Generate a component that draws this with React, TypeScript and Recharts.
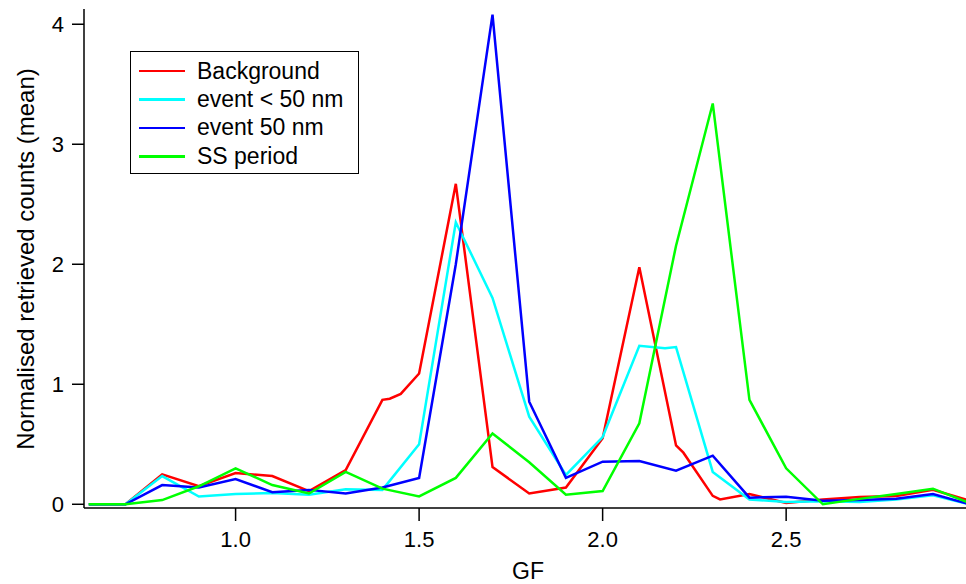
import { LineChart, Line, XAxis, YAxis, Legend } from 'recharts'

const gfBackground = [0.6, 0.7, 0.8, 0.9, 1.0, 1.1, 1.2, 1.3, 1.4, 1.42, 1.45, 1.5, 1.6, 1.7, 1.8, 1.9, 2.0, 2.1, 2.2, 2.22, 2.3, 2.32, 2.4, 2.5, 2.6, 2.7, 2.8, 2.9, 3.0]
const background = [0, 0, 0.25, 0.15, 0.26, 0.235, 0.11, 0.285, 0.87, 0.88, 0.92, 1.09, 2.67, 0.31, 0.09, 0.14, 0.55, 1.975, 0.49, 0.43, 0.07, 0.04, 0.085, 0.01, 0.04, 0.06, 0.07, 0.12, 0.03]

const gfSmall = [0.6, 0.7, 0.8, 0.9, 1.0, 1.1, 1.2, 1.3, 1.4, 1.5, 1.6, 1.7, 1.8, 1.9, 2.0, 2.1, 2.17, 2.2, 2.3, 2.4, 2.5, 2.6, 2.7, 2.8, 2.9, 3.0]
const eventSmall = [0, 0, 0.235, 0.065, 0.085, 0.095, 0.08, 0.125, 0.12, 0.5, 2.35, 1.72, 0.73, 0.245, 0.56, 1.32, 1.3, 1.31, 0.27, 0.04, 0.02, 0.025, 0.02, 0.04, 0.075, 0]

const gf = [0.6, 0.7, 0.8, 0.9, 1.0, 1.1, 1.2, 1.3, 1.4, 1.5, 1.6, 1.7, 1.8, 1.9, 2.0, 2.1, 2.2, 2.3, 2.4, 2.5, 2.6, 2.7, 2.8, 2.9, 3.0]
const event50 = [0, 0, 0.16, 0.14, 0.21, 0.1, 0.12, 0.09, 0.14, 0.22, 2.0, 4.08, 0.855, 0.22, 0.355, 0.36, 0.28, 0.405, 0.055, 0.063, 0.03, 0.036, 0.047, 0.086, 0]
const ssPeriod = [0, 0, 0.035, 0.15, 0.3, 0.16, 0.09, 0.27, 0.13, 0.065, 0.22, 0.59, 0.35, 0.08, 0.11, 0.675, 2.155, 3.34, 0.87, 0.3, 0, 0.045, 0.085, 0.13, 0.01]

const seriesNames = ['Background', 'event < 50 nm', 'event 50 nm', 'SS period']
const xTicks = [1.0, 1.5, 2.0, 2.5]
const yTicks = [0, 1, 2, 3, 4]

const toRows = (xs: number[], ys: number[]) => xs.map((x, i) => ({ gf: x, value: ys[i] }))

const xDomain = [0.587, 2.99]
const yDomain = [-0.031, 4.127]
const font = '"Liberation Sans", Arial, sans-serif'

function renderLegend(props: any) {
  // keep the plotting order rather than recharts' alphabetical one
  const payload = [...props.payload].sort(
    (a: any, b: any) => seriesNames.indexOf(a.value) - seriesNames.indexOf(b.value)
  )
  return (
    <div
      style={{
        boxSizing: 'border-box',
        width: 229,
        height: 123,
        border: '1.5px solid #000',
        background: '#fff',
        padding: '5px 0 0 8px',
        fontFamily: font,
        fontSize: 23,
        color: '#000',
        whiteSpace: 'nowrap'
      }}
    >
      {payload.map((entry: any) => (
        <div key={entry.value} style={{ display: 'flex', alignItems: 'center', height: 28.4 }}>
          <span style={{ display: 'inline-block', width: 46, height: 2.5, background: entry.color, marginRight: 12 }} />
          <span>{entry.value}</span>
        </div>
      ))}
    </div>
  )
}

const yLabel = () => (
  <text x={34} y={259} transform="rotate(-90 34 259)" textAnchor="middle" fontSize={24} fill="#000" fontFamily={font}>
    Normalised retrieved counts (mean)
  </text>
)

const xLabel = () => (
  <text x={528} y={579} textAnchor="middle" fontSize={23} fill="#000" fontFamily={font}>
    GF
  </text>
)

function App() {
  return (
    <div style={{ position: 'absolute', left: 0, top: 0, fontFamily: font }}>
      <LineChart width={966} height={584} margin={{ top: 9, right: 0, bottom: 0, left: 0 }}>
        <XAxis
          dataKey="gf"
          type="number"
          domain={xDomain}
          allowDataOverflow
          ticks={xTicks}
          tickFormatter={(v: number) => v.toFixed(1)}
          height={76}
          tickSize={13}
          tickMargin={10}
          axisLine={{ stroke: '#000', strokeWidth: 1.5 }}
          tickLine={{ stroke: '#000', strokeWidth: 1.5 }}
          tick={{ fontSize: 22, fill: '#000', fontFamily: font }}
          label={xLabel}
        />
        <XAxis
          xAxisId="top"
          orientation="top"
          type="number"
          domain={xDomain}
          allowDataOverflow
          height={0}
          tick={false}
          tickLine={false}
          axisLine={{ stroke: '#000', strokeWidth: 1.5 }}
        />
        <YAxis
          type="number"
          domain={yDomain}
          allowDataOverflow
          ticks={yTicks}
          width={84}
          tickSize={12}
          tickMargin={8}
          axisLine={{ stroke: '#000', strokeWidth: 1.5 }}
          tickLine={{ stroke: '#000', strokeWidth: 1.5 }}
          tick={{ fontSize: 22, fill: '#000', fontFamily: font }}
          label={yLabel}
        />
        <Legend
          layout="vertical"
          align="center"
          verticalAlign="middle"
          content={renderLegend}
          wrapperStyle={{ left: 130, top: 51, width: 229 }}
        />
        <Line data={toRows(gfBackground, background)} dataKey="value" name="Background" stroke="#ff0000" strokeWidth={2.5} dot={false} activeDot={false} isAnimationActive={false} />
        <Line data={toRows(gfSmall, eventSmall)} dataKey="value" name="event < 50 nm" stroke="#00ffff" strokeWidth={2.5} dot={false} activeDot={false} isAnimationActive={false} />
        <Line data={toRows(gf, event50)} dataKey="value" name="event 50 nm" stroke="#0000ff" strokeWidth={2.5} dot={false} activeDot={false} isAnimationActive={false} />
        <Line data={toRows(gf, ssPeriod)} dataKey="value" name="SS period" stroke="#00ff00" strokeWidth={2.5} dot={false} activeDot={false} isAnimationActive={false} />
      </LineChart>
    </div>
  )
}

export default App
